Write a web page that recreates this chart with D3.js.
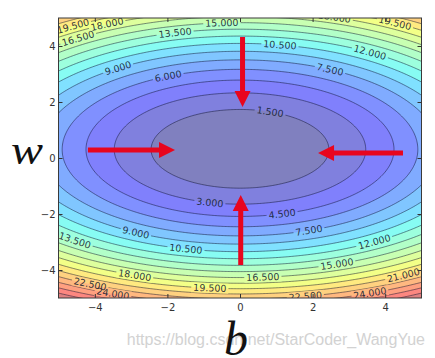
<!DOCTYPE html>
<html><head><meta charset="utf-8">
<script src="https://cdn.jsdelivr.net/npm/d3@7"></script>
<style>body{margin:0;background:#fff}svg{display:block}</style>
</head><body><svg id="c" width="435" height="358"></svg>
<script>
// ---- data ----
const bExtent = [-5, 5];
const wExtent = [-5, 5];
const xTickValues = [-4, -2, 0, 2, 4];
const yTickValues = [-4, -2, 0, 2, 4];
const levels = [0, 1.5, 3, 4.5, 6, 7.5, 9, 10.5, 12, 13.5, 15, 16.5, 18, 19.5, 21, 22.5, 24, 25.5, 27, 28.5, 30];
// elliptic loss surface fitted to the drawn contours: L = kB*(b-b0)^2 + kW*(w-w0)^2
const surfaceCentre = [0, 0.3];          // [b0, w0]
const curvatureB = [0.25];
const curvatureW = [0.73, 0.79];         // above / below the minimum
// inline contour labels: level, b position, side of the minimum (1 above, -1 below)
const labelLevels = [19.5, 18, 16.5, 13.5, 15, 9, 6, 10.5, 12, 19.5, 18, 7.5, 1.5,
                     3, 4.5, 13.5, 9, 10.5, 18, 19.5, 22.5, 24, 16.5, 7.5, 12, 15, 21, 22.5, 24];
const labelB = [-4.6, -3.66, -4.46, -1.79, -0.5, -3.36, -1.98, 1.1, 3.58, 4.27, 2.6, 2.48, 0.83,
                -0.83, 1.16, -4.55, -2.87, -1.49, -2.9, -0.83, -4.13, -3.5, 0.63, 1.9, 3.7, 2.67, 4.5, 1.8, 3.58];
const labelSide = [1, 1, 1, 1, 1, 1, 1, 1, 1, 1, 1, 1, 1,
                   -1, -1, -1, -1, -1, -1, -1, -1, -1, -1, -1, -1, -1, -1, -1, -1];
// red arrows (data coordinates)
const arrowFrom = [[0.07, 4.32], [0.02, -3.82], [-4.19, 0.29], [4.49, 0.18]];
const arrowTo   = [[0.07, 1.82], [0.02, -1.32], [-1.79, 0.29], [2.15, 0.18]];
const xTitle = "b", yTitle = "w";
const watermark = "https://blog.csdn.net/StarCoder_WangYue";

// ---- drawing ----
const svg = d3.select("#c");
const L = 58.5, R = 421.5, T = 18, B = 298;
const x = d3.scaleLinear().domain(bExtent).range([L, R]);
const y = d3.scaleLinear().domain(wExtent).range([B, T]);

function loss(b, w) {
  const dw = w - surfaceCentre[1];
  const kw = dw >= 0 ? curvatureW[0] : curvatureW[1];
  return curvatureB[0] * (b - surfaceCentre[0]) ** 2 + kw * dw * dw;
}

// jet colormap
function interp(stops, t) {
  for (let i = 1; i < stops.length; i++) {
    if (t <= stops[i][0]) {
      const [t0, v0] = stops[i - 1], [t1, v1] = stops[i];
      return v0 + (v1 - v0) * (t - t0) / (t1 - t0);
    }
  }
  return stops[stops.length - 1][1];
}
const jetR = [[0, 0], [0.35, 0], [0.66, 1], [0.89, 1], [1, 0.5]];
const jetG = [[0, 0], [0.125, 0], [0.375, 1], [0.64, 1], [0.91, 0], [1, 0]];
const jetB = [[0, 0.5], [0.11, 1], [0.34, 1], [0.65, 0], [1, 0]];
const alpha = 0.5;
function bandColor(t) {
  const c = [interp(jetR, t), interp(jetG, t), interp(jetB, t)]
    .map(v => Math.round(255 * (alpha * v + (1 - alpha))));
  return d3.rgb(c[0], c[1], c[2]).toString();
}

// grid slightly larger than the plotted window
const step = 0.04, g0 = -5.3, n = Math.round(10.6 / step) + 1;
const values = new Float64Array(n * n);
for (let j = 0; j < n; j++) for (let i = 0; i < n; i++)
  values[j * n + i] = loss(g0 + i * step, g0 + j * step);

const path = d3.geoPath(d3.geoTransform({
  point(px, py) { this.stream.point(x(g0 + (px - 0.5) * step), y(g0 + (py - 0.5) * step)); }
}));
const contours = d3.contours().size([n, n]).thresholds(levels)(values);

const defs = svg.append("defs");
defs.append("clipPath").attr("id", "plotclip")
  .append("rect").attr("x", L).attr("y", T).attr("width", R - L).attr("height", B - T);
const mask = defs.append("mask").attr("id", "labelmask").attr("maskUnits", "userSpaceOnUse")
  .attr("x", 0).attr("y", 0).attr("width", 435).attr("height", 358);
mask.append("rect").attr("width", 435).attr("height", 358).attr("fill", "white");

// watermark (behind)
svg.append("text").attr("x", 425).attr("y", 345).attr("text-anchor", "end")
  .attr("font-family", "Liberation Sans, Arial, sans-serif").attr("font-size", 16)
  .attr("fill", "#d2d2d2").text(watermark);

const plot = svg.append("g").attr("clip-path", "url(#plotclip)");
const nb = levels.length - 1;
const mid0 = (levels[0] + levels[1]) / 2, midN = (levels[nb - 1] + levels[nb]) / 2;
plot.append("g").selectAll("path").data(contours.slice(0, nb)).join("path")
  .attr("d", path)
  .attr("fill", (d, k) => bandColor(((levels[k] + levels[k + 1]) / 2 - mid0) / (midN - mid0)))
  .attr("stroke", "none");

plot.append("g").attr("mask", "url(#labelmask)")
  .selectAll("path").data(contours.slice(1)).join("path")
  .attr("d", path).attr("fill", "none")
  .attr("stroke", "#0a0f2a").attr("stroke-opacity", 0.55).attr("stroke-width", 0.9);

// labels
const fmt = d3.format(".3f");
const labelG = plot.append("g");
labelLevels.forEach((lv, i) => {
  const b = labelB[i], side = labelSide[i];
  const kw = side > 0 ? curvatureW[0] : curvatureW[1];
  const rem = Math.max(0, lv - curvatureB[0] * (b - surfaceCentre[0]) ** 2);
  const w = surfaceCentre[1] + side * Math.sqrt(rem / kw);
  const px = x(b), py = y(w);
  const sx = (x(1) - x(0)), sy = (y(0) - y(1));
  const gpx = 2 * curvatureB[0] * (b - surfaceCentre[0]) / sx;
  const gpy = -2 * kw * (w - surfaceCentre[1]) / sy;
  let ang = Math.atan2(-gpx, gpy) * 180 / Math.PI;
  if (ang > 90) ang -= 180;
  if (ang < -90) ang += 180;
  const t = labelG.append("text")
    .attr("transform", `translate(${px},${py}) rotate(${ang})`)
    .attr("text-anchor", "middle").attr("dy", "0.35em")
    .attr("font-family", "DejaVu Sans, sans-serif").attr("font-size", 9.5)
    .attr("fill", "#142030").attr("fill-opacity", 0.9)
    .text(fmt(lv));
  const tw = t.node().getComputedTextLength() + 4;
  mask.append("rect").attr("x", -tw / 2).attr("y", -5).attr("width", tw).attr("height", 10)
    .attr("fill", "black").attr("transform", `translate(${px},${py}) rotate(${ang})`);
});

// frame and ticks
const tickStyle = g => {
  g.select(".domain").remove();
  g.selectAll(".tick line").attr("stroke", "#333");
  g.selectAll(".tick text").attr("fill", "#333")
    .attr("font-family", "DejaVu Sans, sans-serif").attr("font-size", 10);
};
svg.append("g").attr("transform", `translate(0,${B})`)
  .call(d3.axisBottom(x).tickValues(xTickValues).tickSize(-4).tickPadding(6)).call(tickStyle);
svg.append("g").attr("transform", `translate(0,${T})`)
  .call(d3.axisTop(x).tickValues(xTickValues).tickSize(-4).tickFormat("")).call(tickStyle);
svg.append("g").attr("transform", `translate(${L},0)`)
  .call(d3.axisLeft(y).tickValues(yTickValues).tickSize(-4).tickPadding(3)).call(tickStyle);
svg.append("g").attr("transform", `translate(${R},0)`)
  .call(d3.axisRight(y).tickValues(yTickValues).tickSize(-4).tickFormat("")).call(tickStyle);
svg.append("rect").attr("x", L).attr("y", T).attr("width", R - L).attr("height", B - T)
  .attr("fill", "none").attr("stroke", "#3a3a3a").attr("stroke-width", 1);

// arrows
const sw = 5, hw = 16, hl = 16;
arrowFrom.forEach((f, i) => {
  const p0 = [x(f[0]), y(f[1])], p1 = [x(arrowTo[i][0]), y(arrowTo[i][1])];
  const dx = p1[0] - p0[0], dy = p1[1] - p0[1], len = Math.hypot(dx, dy);
  const u = [dx / len, dy / len], nrm = [-u[1], u[0]];
  const hb = [p1[0] - u[0] * hl, p1[1] - u[1] * hl];
  const pt = (p, s) => [p[0] + nrm[0] * s, p[1] + nrm[1] * s];
  const pts = [pt(p0, sw / 2), pt(hb, sw / 2), pt(hb, hw / 2), p1, pt(hb, -hw / 2), pt(hb, -sw / 2), pt(p0, -sw / 2)];
  svg.append("path").attr("d", "M" + pts.map(p => p.join(",")).join("L") + "Z")
    .attr("fill", "#e8051e");
});

// axis titles
svg.append("text").attr("x", 11).attr("y", 164)
  .attr("font-family", "Liberation Serif, Times New Roman, serif").attr("font-style", "italic")
  .attr("font-size", 42).attr("textLength", 32).attr("lengthAdjust", "spacingAndGlyphs")
  .attr("fill", "#111").text(yTitle);
svg.append("text").attr("x", 236).attr("y", 355).attr("text-anchor", "middle")
  .attr("font-family", "Liberation Serif, Times New Roman, serif").attr("font-style", "italic")
  .attr("font-size", 48).attr("fill", "#111").text(xTitle);
</script></body></html>
